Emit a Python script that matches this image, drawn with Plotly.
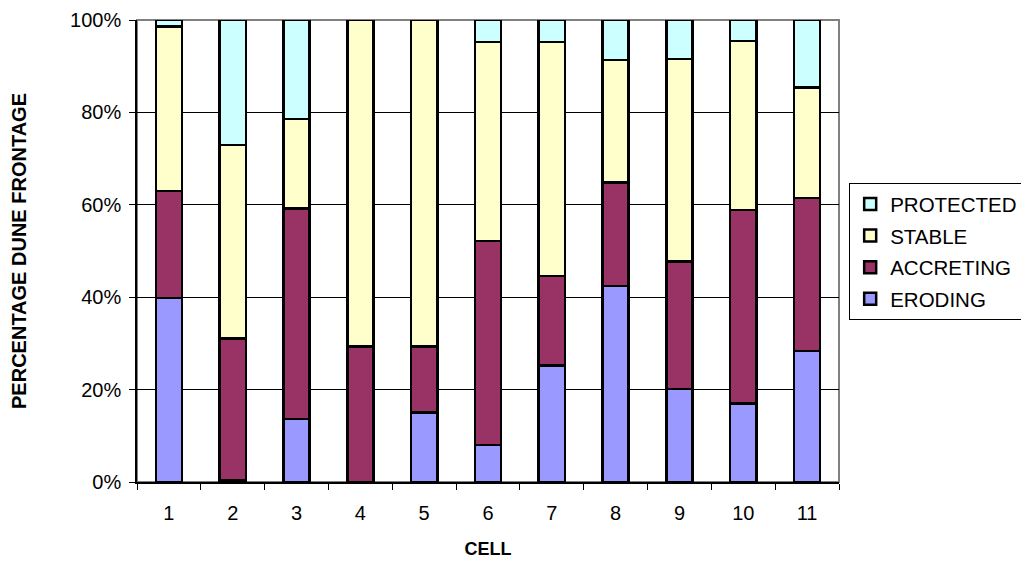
import plotly.graph_objects as go

cells = ["1", "2", "3", "4", "5", "6", "7", "8", "9", "10", "11"]
eroding = [39.8, 0.4, 13.6, 0.0, 15.0, 8.0, 25.2, 42.4, 20.1, 17.0, 28.4]
accreting = [23.2, 30.7, 45.6, 29.3, 14.3, 44.2, 19.4, 22.4, 27.6, 41.9, 33.1]
stable = [35.6, 41.8, 19.4, 70.7, 70.7, 43.0, 50.6, 26.5, 43.9, 36.6, 23.9]
protected = [1.4, 27.1, 21.4, 0.0, 0.0, 4.8, 4.8, 8.7, 8.4, 4.5, 14.6]

series = [
    ("ERODING", eroding, "#9999FF", 4),
    ("ACCRETING", accreting, "#993366", 3),
    ("STABLE", stable, "#FFFFCC", 2),
    ("PROTECTED", protected, "#CCFFFF", 1),
]

FONT = "Arial, 'Liberation Sans', sans-serif"

fig = go.Figure()
for name, vals, col, rank in series:
    fig.add_trace(go.Bar(
        x=cells, y=vals, name=name, legendgroup=name, legendrank=rank,
        marker=dict(color=col, line=dict(color="black", width=2.5)),
    ))

# page body has an 8px default margin, so the figure is 8px smaller
fig.update_layout(
    barmode="stack",
    bargap=0.59,
    width=1021, height=554,
    margin=dict(l=129, r=190, t=12, b=80, autoexpand=False),
    plot_bgcolor="white", paper_bgcolor="white",
    font=dict(family=FONT, size=20, color="black"),
    legend=dict(
        x=1.0145, y=0.647, xanchor="left", yanchor="top",
        traceorder="grouped", tracegroupgap=2,
        bordercolor="black", borderwidth=1,
        font=dict(size=20.5, family=FONT),
        itemwidth=30,
    ),
    shapes=[dict(type="rect", xref="paper", yref="paper", x0=0, x1=1, y0=0, y1=1,
                 line=dict(color="#808080", width=2), layer="below")],
)

fig.update_xaxes(
    type="category", automargin=False,
    showline=True, linecolor="black", linewidth=1.5,
    ticks="outside", tickson="boundaries", ticklen=6, tickcolor="black",
    ticklabelstandoff=12,
    showgrid=False,
    title=dict(text="<b>CELL</b>", font=dict(size=18, family=FONT), standoff=20),
)
fig.update_yaxes(
    range=[0, 100], tickvals=[0, 20, 40, 60, 80, 100],
    ticktext=["0%", "20%", "40%", "60%", "80%", "100%"],
    automargin=False,
    showline=True, linecolor="black", linewidth=1.5,
    ticks="outside", ticklen=6, tickcolor="black",
    ticklabelstandoff=4,
    showgrid=True, gridcolor="black", gridwidth=1,
    zeroline=False,
    title=dict(text="<b>PERCENTAGE DUNE FRONTAGE</b>", font=dict(size=20, family=FONT), standoff=43),
)

fig.write_html("out.html")
